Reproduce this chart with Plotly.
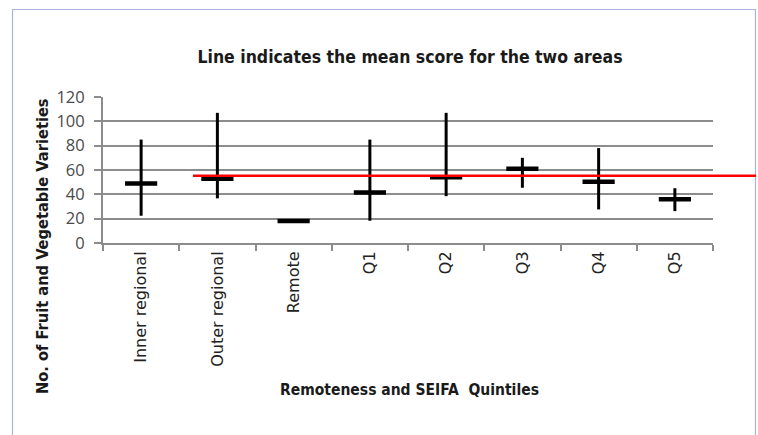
import plotly.graph_objects as go

categories = ["Inner regional", "Outer regional", "Remote", "Q1", "Q2", "Q3", "Q4", "Q5"]
mean_vals = [49, 52.8, 18, 41.6, 54, 61, 50.3, 36]
high_vals = [85, 107, 18, 85, 107, 70, 78, 45]
low_vals = [22.4, 36.7, 18, 18.3, 38.5, 45.4, 27.6, 26.2]
overall_mean = 55.2
y_ticks = [0, 20, 40, 60, 80, 100, 120]

err_plus = [h - m for h, m in zip(high_vals, mean_vals)]
err_minus = [m - l for m, l in zip(mean_vals, low_vals)]

bold_font = "DejaVu Sans Condensed, Liberation Sans Narrow, sans-serif"
tick_font = "Open Sans, Noto Sans, sans-serif"
xtick_font = "DejaVu Sans, sans-serif"

fig = go.Figure()
fig.add_trace(go.Scatter(
    x=categories, y=mean_vals, mode="markers",
    marker=dict(symbol="line-ew", size=23, line=dict(width=4.5, color="black"), color="black"),
    error_y=dict(type="data", symmetric=False, array=err_plus, arrayminus=err_minus,
                 width=0, thickness=3, color="black"),
    showlegend=False, hoverinfo="skip",
))

L, R, T, B = 103, 45, 97, 192
W, H = 758, 435
pw = W - L - R
ph = H - T - B

def px_x(p):
    return (p - L) / pw

def px_y(p):
    return (H - B - p) / ph

fig.add_shape(type="line", xref="paper", yref="y",
              x0=px_x(193), x1=px_x(756), y0=overall_mean, y1=overall_mean,
              line=dict(color="#ff0000", width=2.5), layer="above")
fig.add_shape(type="rect", xref="paper", yref="paper",
              x0=px_x(12.5), x1=px_x(755.5), y0=px_y(445), y1=px_y(9.5),
              line=dict(color="#aab3e0", width=1.2), fillcolor="rgba(0,0,0,0)", layer="below")

fig.add_annotation(text="<b>No. of Fruit and Vegetable Varieties</b>", xref="paper", yref="paper",
                   x=px_x(42), y=px_y(246), textangle=-90, showarrow=False,
                   font=dict(family=bold_font, size=16.3, color="#1a1a1a"),
                   xanchor="center", yanchor="middle")
fig.add_annotation(text="<b>Remoteness and SEIFA  Quintiles</b>", xref="paper", yref="paper",
                   x=px_x(409), y=px_y(390), showarrow=False,
                   font=dict(family=bold_font, size=15.5, color="#1a1a1a"),
                   xanchor="center", yanchor="middle")

fig.update_layout(
    width=W, height=H,
    margin=dict(l=L, r=R, t=T, b=B),
    paper_bgcolor="white", plot_bgcolor="white",
    title=dict(text="<b>Line indicates the mean score for the two areas</b>",
               xref="container", x=410 / W, xanchor="center", y=1 - 57 / H, yanchor="middle",
               font=dict(family=bold_font, size=17.5, color="#1a1a1a")),
    xaxis=dict(
        type="category", categoryorder="array", categoryarray=categories,
        tickson="boundaries", ticks="outside", ticklen=6, tickcolor="#8c8c8c", tickwidth=2,
        tickangle=-90, showline=True, linecolor="#8c8c8c", linewidth=2,
        showgrid=False, tickfont=dict(family=xtick_font, size=16, color="#222"),
        range=[-0.5, len(categories) - 0.5], zeroline=False,
    ),
    yaxis=dict(
        range=[0, 120], tickvals=y_ticks, ticks="outside", ticklen=7, tickcolor="#8c8c8c",
        tickwidth=2, showline=True, linecolor="#8c8c8c", linewidth=2,
        showgrid=True, gridcolor="#8c8c8c", gridwidth=2, zeroline=False,
        ticklabelstandoff=6,
        tickfont=dict(family=tick_font, size=16.5, color="#4a4a4a"),
    ),
)

fig.write_html("out.html", config={"displayModeBar": False},
               post_script="document.body.style.margin='0';")
